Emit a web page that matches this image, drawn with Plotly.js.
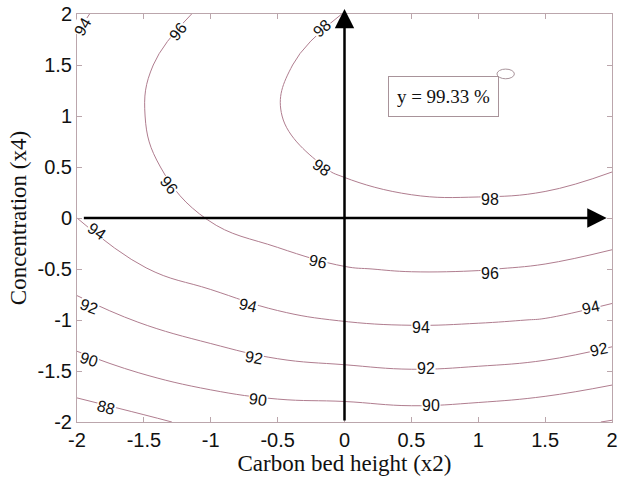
<!DOCTYPE html>
<html>
<head>
<meta charset="utf-8">
<script src="https://cdn.plot.ly/plotly-3.0.1.min.js"></script>
<style>html,body{margin:0;padding:0;background:#fff;}#chart{width:620px;height:477px;}</style>
</head>
<body>
<div id="chart"></div>
<script>
// Grid of the response surface
var carbonBedHeight = [-2, -1.5, -1, -0.5, 0, 0.5, 1, 1.5, 2];      // x2
var concentration   = [-2, -1.5, -1, -0.5, 0, 0.5, 1, 1.5, 2];      // x4
// rows: concentration (x4) from -2 to 2 ; columns: carbon bed height (x2) from -2 to 2
var yieldRowM20 = [86.90, 87.64, 88.50, 88.80, 88.85, 89.10, 88.90, 88.50, 87.90];
var yieldRowM15 = [89.23, 90.16, 90.88, 91.47, 91.71, 91.92, 91.78, 91.48, 90.80];
var yieldRowM10 = [91.22, 92.17, 92.96, 93.67, 94.07, 94.24, 94.15, 93.94, 93.33];
var yieldRowM05 = [92.85, 93.95, 94.70, 95.45, 95.93, 96.10, 96.06, 95.84, 95.40];
var yieldRow00  = [94.00, 95.05, 96.10, 96.75, 97.30, 97.58, 97.60, 97.48, 96.99];
var yieldRowP05 = [94.65, 95.74, 96.79, 97.58, 98.18, 98.50, 98.57, 98.48, 98.11];
var yieldRowP10 = [94.81, 95.98, 97.09, 97.96, 98.56, 99.04, 99.17, 99.11, 98.76];
var yieldRowP15 = [94.50, 95.84, 96.98, 97.87, 98.45, 99.12, 99.31, 99.26, 98.94];
var yieldRowP20 = [93.71, 95.25, 96.30, 97.30, 98.03, 98.75, 99.01, 98.94, 98.65];

var contourStart = 88, contourEnd = 98, contourStep = 2;
var tickValues = [-2, -1.5, -1, -0.5, 0, 0.5, 1, 1.5, 2];
var tickLabels = ['-2', '-1.5', '-1', '-0.5', '0', '0.5', '1', '1.5', '2'];
var optimumText = 'y = 99.33 %';
var xTitle = 'Carbon bed height (x2)';
var yTitle = 'Concentration (x4)';

// contour label texts (as in the picture)
var contourLabelText = ['94', '96', '98', '96', '98', '98', '94', '96', '96', '94', '94', '94',
                        '92', '92', '92', '92', '90', '90', '90', '88'];
// layout: where each contour label sits and its rotation
var labelPlacement = [
  [-1.955, 1.875, -60], [-1.245, 1.83, -51], [-0.17, 1.86, -41], [-1.31, 0.32, 50],
  [-0.17, 0.50, 35], [1.09, 0.18, 0], [-1.85, -0.13, 35], [-0.20, -0.43, 12],
  [1.09, -0.54, 0], [-0.72, -0.86, 13], [0.57, -1.07, 0], [1.84, -0.88, -12],
  [-1.91, -0.87, 20], [-0.68, -1.37, 10], [0.61, -1.48, 0], [1.90, -1.29, -12],
  [-1.91, -1.39, 18], [-0.65, -1.78, 8], [0.65, -1.84, 0], [-1.78, -1.86, 15]
];

var lineCol = '#b07d8f';
var frameCol = '#bba6ac';

var z = [yieldRowM20, yieldRowM15, yieldRowM10, yieldRowM05, yieldRow00,
         yieldRowP05, yieldRowP10, yieldRowP15, yieldRowP20];

var trace = {
  type: 'contour',
  x: carbonBedHeight,
  y: concentration,
  z: z,
  autocontour: false,
  contours: {
    start: contourStart, end: contourEnd, size: contourStep,
    coloring: 'lines',
    showlabels: false
  },
  colorscale: [[0, lineCol], [1, lineCol]],
  showscale: false,
  line: {width: 1, smoothing: 1.2},
  hoverinfo: 'skip'
};

var axisCommon = {
  range: [-2, 2],
  tickmode: 'array',
  tickvals: tickValues,
  ticktext: tickLabels,
  ticks: 'inside',
  ticklen: 5,
  tickcolor: frameCol,
  showline: true,
  linecolor: frameCol,
  linewidth: 1,
  mirror: 'allticks',
  showgrid: false,
  zeroline: false,
  tickfont: {family: 'Liberation Sans, Arial, sans-serif', size: 20, color: '#111'}
};

var annotations = [];
contourLabelText.forEach(function (t, i) {
  var p = labelPlacement[i];
  annotations.push({
    x: p[0], y: p[1], xref: 'x', yref: 'y', text: t, showarrow: false,
    textangle: p[2], bgcolor: '#ffffff', borderpad: 0,
    font: {family: 'Liberation Sans, Arial, sans-serif', size: 16, color: '#111'}
  });
});
annotations.push(
  {x: 1.96, y: 0, ax: -1.96, ay: 0, xref: 'x', yref: 'y', axref: 'x', ayref: 'y',
   showarrow: true, arrowhead: 2, arrowsize: 1.55, arrowwidth: 2.5, arrowcolor: '#000', text: ''},
  {x: 0, y: 2.05, ax: 0, ay: -2, xref: 'x', yref: 'y', axref: 'x', ayref: 'y',
   showarrow: true, arrowhead: 2, arrowsize: 1.55, arrowwidth: 2.5, arrowcolor: '#000', text: ''},
  {x: 0.74, y: 1.19, xref: 'x', yref: 'y', showarrow: false, text: optimumText,
   font: {family: 'Liberation Serif, Times New Roman, serif', size: 19, color: '#111'},
   bordercolor: '#a8939a', borderwidth: 1, borderpad: 1, width: 107, height: 37, bgcolor: 'rgba(255,255,255,0)'}
);

var layout = {
  width: 620, height: 477,
  margin: {l: 77, r: 8, t: 14, b: 55},
  paper_bgcolor: '#fff', plot_bgcolor: '#fff',
  showlegend: false,
  xaxis: Object.assign({}, axisCommon, {
    title: {text: xTitle, standoff: 2, font: {family: 'Liberation Serif, Times New Roman, serif', size: 23, color: '#111'}}
  }),
  yaxis: Object.assign({}, axisCommon, {
    title: {text: yTitle, standoff: 4, font: {family: 'Liberation Serif, Times New Roman, serif', size: 23, color: '#111'}}
  }),
  annotations: annotations,
  shapes: [
    {type: 'circle', xref: 'x', yref: 'y', x0: 1.14, x1: 1.27, y0: 1.365, y1: 1.46,
     line: {color: '#a8939a', width: 1}}
  ]
};

Plotly.newPlot('chart', [trace], layout, {displayModeBar: false, staticPlot: true});
</script>
</body>
</html>
